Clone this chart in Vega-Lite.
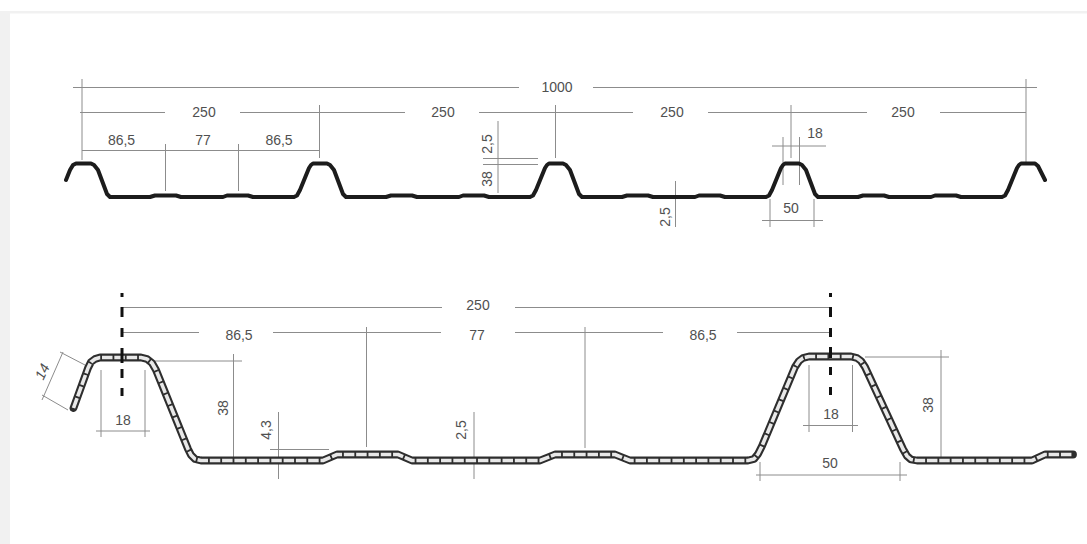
{
"$schema":"https://vega.github.io/schema/vega-lite/v6.json",
"width":1087,"height":544,"autosize":{"type":"fit","contains":"padding"},"padding":0,"background":"white",
"config":{"view":{"stroke":null}},
"datasets":{
"frame":[{"x":0,"x2":10,"y":11,"y2":544},{"x":10,"x2":1087,"y":11,"y2":13.5}],
"top":[{"x":66,"y":180},{"x":70,"y":170},{"x":73,"y":165},{"x":76,"y":163.5},{"x":91,"y":163.5},{"x":94,"y":165},{"x":98,"y":170},{"x":107,"y":194},{"x":110,"y":197},{"x":150,"y":197},{"x":155,"y":195.5},{"x":176,"y":195.5},{"x":181,"y":197},{"x":223,"y":197},{"x":227,"y":195.5},{"x":248,"y":195.5},{"x":253,"y":197},{"x":294,"y":197},{"x":297,"y":195.5},{"x":300,"y":190},{"x":309,"y":168},{"x":311,"y":165},{"x":313,"y":163.5},{"x":327,"y":163.5},{"x":330,"y":165},{"x":334,"y":170},{"x":343,"y":194},{"x":346,"y":197},{"x":386,"y":197},{"x":391,"y":195.5},{"x":412,"y":195.5},{"x":417,"y":197},{"x":459,"y":197},{"x":463,"y":195.5},{"x":484,"y":195.5},{"x":489,"y":197},{"x":530,"y":197},{"x":533,"y":195.5},{"x":536,"y":190},{"x":545,"y":168},{"x":547,"y":165},{"x":549,"y":163.5},{"x":563,"y":163.5},{"x":566,"y":165},{"x":570,"y":170},{"x":579,"y":194},{"x":582,"y":197},{"x":622,"y":197},{"x":627,"y":195.5},{"x":648,"y":195.5},{"x":653,"y":197},{"x":695,"y":197},{"x":699,"y":195.5},{"x":720,"y":195.5},{"x":725,"y":197},{"x":766,"y":197},{"x":769,"y":195.5},{"x":772,"y":190},{"x":781,"y":168},{"x":783,"y":165},{"x":785,"y":163.5},{"x":799,"y":163.5},{"x":802,"y":165},{"x":806,"y":170},{"x":815,"y":194},{"x":818,"y":197},{"x":858,"y":197},{"x":863,"y":195.5},{"x":884,"y":195.5},{"x":889,"y":197},{"x":931,"y":197},{"x":935,"y":195.5},{"x":956,"y":195.5},{"x":961,"y":197},{"x":1002,"y":197},{"x":1005,"y":195.5},{"x":1008,"y":190},{"x":1017,"y":168},{"x":1019,"y":165},{"x":1021,"y":163.5},{"x":1035,"y":163.5},{"x":1038,"y":166},{"x":1041,"y":172},{"x":1045,"y":180}],
"bottom":[{"x":73.5,"y":408},{"x":88,"y":368},{"x":91,"y":362},{"x":95,"y":359},{"x":100,"y":357.5},{"x":141,"y":357.5},{"x":147,"y":359},{"x":152,"y":363},{"x":156,"y":370},{"x":188,"y":449},{"x":191,"y":455},{"x":195,"y":459},{"x":201,"y":460.5},{"x":323,"y":460.5},{"x":337,"y":454.5},{"x":398,"y":454.5},{"x":412,"y":460.5},{"x":540,"y":460.5},{"x":555,"y":454.5},{"x":615,"y":454.5},{"x":630,"y":460.5},{"x":748,"y":460.5},{"x":754,"y":459},{"x":758,"y":454},{"x":762,"y":446},{"x":795,"y":367},{"x":799,"y":361},{"x":803,"y":358},{"x":809,"y":356.5},{"x":851,"y":356.5},{"x":857,"y":358},{"x":861,"y":361},{"x":865,"y":367},{"x":903,"y":449},{"x":907,"y":456},{"x":911,"y":459.5},{"x":917,"y":460.5},{"x":1032,"y":460.5},{"x":1045,"y":454.5},{"x":1073,"y":454.5}],
"dims":[
{"x":73,"x2":519,"y":87.5,"y2":87.5},{"x":593,"x2":1037,"y":87.5,"y2":87.5},
{"x":82,"x2":82,"y":79,"y2":160},{"x":80,"x2":165,"y":112.5,"y2":112.5},{"x":240,"x2":405,"y":112.5,"y2":112.5},{"x":479,"x2":633,"y":112.5,"y2":112.5},{"x":708,"x2":867,"y":112.5,"y2":112.5},{"x":940,"x2":1026,"y":112.5,"y2":112.5},
{"x":319.5,"x2":319.5,"y":105,"y2":158},{"x":555.5,"x2":555.5,"y":105,"y2":158},{"x":791,"x2":791,"y":105,"y2":158},{"x":1026,"x2":1026,"y":79,"y2":162},
{"x":82,"x2":320,"y":150.5,"y2":150.5},{"x":165.5,"x2":165.5,"y":144,"y2":191},{"x":238.5,"x2":238.5,"y":144,"y2":191},
{"x":498,"x2":498,"y":121,"y2":193},{"x":483,"x2":538,"y":158.5,"y2":158.5},{"x":483,"x2":538,"y":164.5,"y2":164.5},
{"x":772,"x2":826,"y":146,"y2":146},{"x":783,"x2":783,"y":137,"y2":185},{"x":799.5,"x2":799.5,"y":137,"y2":185},
{"x":762,"x2":823,"y":220.5,"y2":220.5},{"x":770,"x2":770,"y":199,"y2":227},{"x":814,"x2":814,"y":199,"y2":227},{"x":675.5,"x2":675.5,"y":181,"y2":227},
{"x":122,"x2":442,"y":307.5,"y2":307.5},{"x":515,"x2":830,"y":307.5,"y2":307.5},
{"x":122,"x2":199,"y":332.5,"y2":332.5},{"x":273,"x2":441,"y":332.5,"y2":332.5},{"x":515,"x2":663,"y":332.5,"y2":332.5},{"x":737,"x2":830,"y":332.5,"y2":332.5},
{"x":366.5,"x2":366.5,"y":327,"y2":447},{"x":585,"x2":585,"y":327,"y2":448},
{"x":101,"x2":101,"y":370,"y2":437},{"x":145,"x2":145,"y":370,"y2":437},{"x":96,"x2":150,"y":431,"y2":431},
{"x":233.5,"x2":233.5,"y":354,"y2":460},{"x":155,"x2":242,"y":361,"y2":361},
{"x":278.5,"x2":278.5,"y":412,"y2":479},{"x":270,"x2":329,"y":449.5,"y2":449.5},
{"x":63,"x2":42,"y":352,"y2":400},{"x":60,"x2":85,"y":352,"y2":365},{"x":42,"x2":68,"y":395,"y2":410},
{"x":474,"x2":474,"y":412,"y2":479},
{"x":809,"x2":809,"y":365,"y2":432},{"x":852.5,"x2":852.5,"y":365,"y2":432},{"x":803,"x2":858,"y":425.5,"y2":425.5},
{"x":941,"x2":941,"y":350,"y2":458},{"x":865,"x2":949,"y":357,"y2":357},
{"x":756,"x2":907,"y":475,"y2":475},{"x":760,"x2":760,"y":462,"y2":481},{"x":900,"x2":900,"y":462,"y2":481}
],
"center":[
{"x":122,"x2":122,"y":293,"y2":297},{"x":122,"x2":122,"y":307,"y2":317},{"x":122,"x2":122,"y":328,"y2":337},{"x":122,"x2":122,"y":348,"y2":363},{"x":122,"x2":122,"y":369,"y2":378},{"x":122,"x2":122,"y":388,"y2":396},
{"x":830.5,"x2":830.5,"y":293,"y2":297},{"x":830.5,"x2":830.5,"y":307,"y2":317},{"x":830.5,"x2":830.5,"y":328,"y2":337},{"x":830.5,"x2":830.5,"y":347,"y2":358},{"x":830.5,"x2":830.5,"y":367,"y2":375},{"x":830.5,"x2":830.5,"y":387,"y2":395}
],
"labels":[
{"x":557,"y":88,"t":"1000"},{"x":204,"y":113,"t":"250"},{"x":443,"y":113,"t":"250"},{"x":672,"y":113,"t":"250"},{"x":903,"y":113,"t":"250"},
{"x":121.5,"y":141,"t":"86,5"},{"x":203,"y":141,"t":"77"},{"x":279,"y":141,"t":"86,5"},{"x":815,"y":134,"t":"18"},{"x":791,"y":209,"t":"50"},
{"x":478,"y":306,"t":"250"},{"x":239,"y":335.5,"t":"86,5"},{"x":477,"y":335.5,"t":"77"},{"x":703,"y":335.5,"t":"86,5"},
{"x":123,"y":421,"t":"18"},{"x":831,"y":415,"t":"18"},{"x":830,"y":463.5,"t":"50"}
],
"rotated":[
{"x":488,"y":144,"t":"2,5"},{"x":488,"y":179,"t":"38"},{"x":666,"y":217,"t":"2,5"},
{"x":224,"y":408,"t":"38"},{"x":267,"y":430,"t":"4,3"},{"x":462,"y":430,"t":"2,5"},{"x":929,"y":405,"t":"38"}
],
"slanted":[{"x":43,"y":372,"t":"14"}]
},
"encoding":{
"x":{"field":"x","type":"quantitative","scale":{"domain":[0,1087],"nice":false,"zero":false},"axis":null},
"y":{"field":"y","type":"quantitative","scale":{"domain":[544,0],"nice":false,"zero":false},"axis":null}
},
"layer":[
{"data":{"name":"frame"},"mark":{"type":"rect","fill":"#f1f1f1"},"encoding":{"x2":{"field":"x2"},"y2":{"field":"y2"}}},
{"data":{"name":"dims"},"mark":{"type":"rule","stroke":"#8c8c8c","strokeWidth":1},"encoding":{"x2":{"field":"x2"},"y2":{"field":"y2"}}},
{"data":{"name":"top"},"mark":{"type":"line","stroke":"#1c1c1c","strokeWidth":4,"strokeCap":"round","strokeJoin":"round"},"encoding":{}},
{"data":{"name":"bottom"},"mark":{"type":"line","stroke":"#2e2e2e","strokeWidth":7.8,"strokeCap":"round","strokeJoin":"round"},"encoding":{}},
{"data":{"name":"bottom"},"mark":{"type":"line","stroke":"#e8e8e8","strokeWidth":3.6,"strokeDash":[10.5,1.8],"strokeJoin":"round"},"encoding":{}},
{"data":{"name":"center"},"mark":{"type":"rule","stroke":"#111111","strokeWidth":3},"encoding":{"x2":{"field":"x2"},"y2":{"field":"y2"}}},
{"data":{"name":"labels"},"mark":{"type":"text","font":"Liberation Sans","fontSize":14,"fill":"#505050","align":"center","baseline":"middle"},"encoding":{"text":{"field":"t"}}},
{"data":{"name":"rotated"},"mark":{"type":"text","font":"Liberation Sans","fontSize":14,"fill":"#505050","align":"center","baseline":"middle","angle":270},"encoding":{"text":{"field":"t"}}},
{"data":{"name":"slanted"},"mark":{"type":"text","font":"Liberation Sans","fontSize":14,"fontStyle":"italic","fill":"#505050","align":"center","baseline":"middle","angle":295},"encoding":{"text":{"field":"t"}}}
]
}
